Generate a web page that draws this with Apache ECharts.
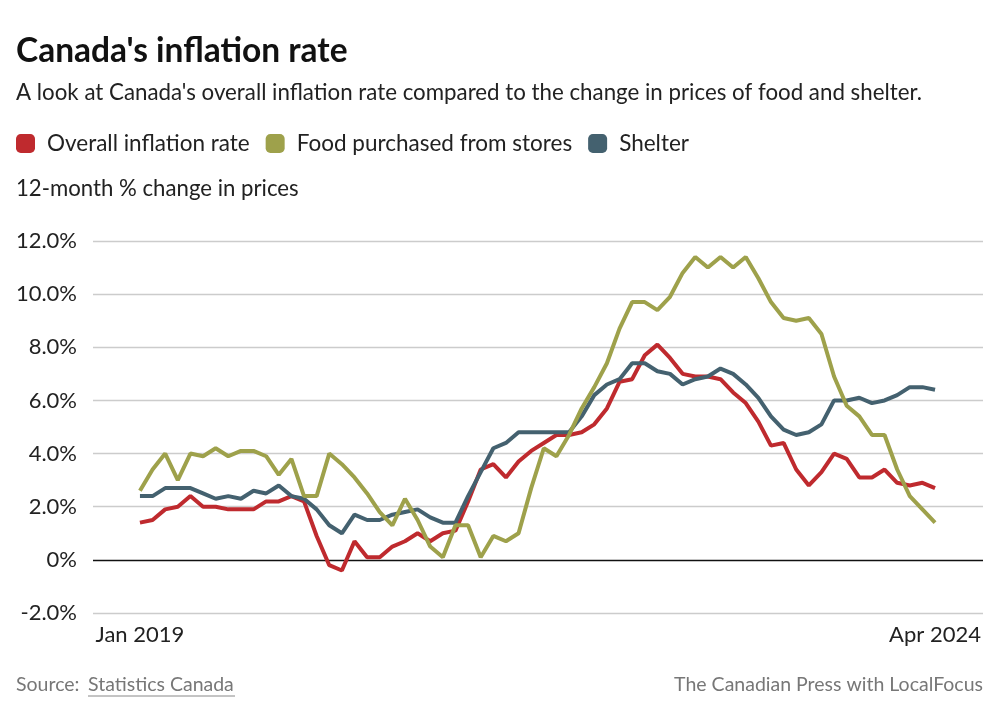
<!DOCTYPE html>
<html>
<head>
<meta charset="utf-8">
<script src="https://cdn.jsdelivr.net/npm/echarts@6/dist/echarts.min.js"></script>
<style>
html,body{margin:0;padding:0;background:#fff;}
#chart{width:1000px;height:725px;}
</style>
</head>
<body>
<div id="chart"></div>
<script>
// Months Jan 2019 .. Apr 2024
const monthNames = ['Jan','Feb','Mar','Apr','May','Jun','Jul','Aug','Sep','Oct','Nov','Dec'];
const months = [];
for (let y = 2019; y <= 2024; y++) {
  for (let m = 0; m < 12; m++) {
    if (y === 2024 && m > 3) break;
    months.push(monthNames[m] + ' ' + y);
  }
}
const xTickLabels = ['Jan 2019', 'Apr 2024'];
const yTicks = [-2, 0, 2, 4, 6, 8, 10, 12];

const overall = [1.4,1.5,1.9,2.0,2.4,2.0,2.0,1.9,1.9,1.9,2.2,2.2,
  2.4,2.2,0.9,-0.2,-0.4,0.7,0.1,0.1,0.5,0.7,1.0,0.7,
  1.0,1.1,2.2,3.4,3.6,3.1,3.7,4.1,4.4,4.7,4.7,4.8,
  5.1,5.7,6.7,6.8,7.7,8.1,7.6,7.0,6.9,6.9,6.8,6.3,
  5.9,5.2,4.3,4.4,3.4,2.8,3.3,4.0,3.8,3.1,3.1,3.4,
  2.9,2.8,2.9,2.7];

const food = [2.6,3.4,4.0,3.0,4.0,3.9,4.2,3.9,4.1,4.1,3.9,3.2,
  3.8,2.4,2.4,4.0,3.6,3.1,2.5,1.8,1.3,2.3,1.5,0.5,
  0.1,1.3,1.3,0.1,0.9,0.7,1.0,2.7,4.2,3.9,4.7,5.7,
  6.5,7.4,8.7,9.7,9.7,9.4,9.9,10.8,11.4,11.0,11.4,11.0,
  11.4,10.6,9.7,9.1,9.0,9.1,8.5,6.9,5.8,5.4,4.7,4.7,
  3.4,2.4,1.9,1.4];

const shelter = [2.4,2.4,2.7,2.7,2.7,2.5,2.3,2.4,2.3,2.6,2.5,2.8,
  2.4,2.3,1.9,1.3,1.0,1.7,1.5,1.5,1.7,1.8,1.9,1.6,
  1.4,1.4,2.4,3.3,4.2,4.4,4.8,4.8,4.8,4.8,4.8,5.4,
  6.2,6.6,6.8,7.4,7.4,7.1,7.0,6.6,6.8,6.9,7.2,7.0,
  6.6,6.1,5.4,4.9,4.7,4.8,5.1,6.0,6.0,6.1,5.9,6.0,
  6.2,6.5,6.5,6.4];

const seriesNames = ['Overall inflation rate', 'Food purchased from stores', 'Shelter'];
const colors = ['#bf2a2e', '#9ea14b', '#44616f'];

function pairs(arr) { return arr.map((v, i) => [i, v]); }
const lastIdx = months.length - 1;

const chart = echarts.init(document.getElementById('chart'), null, {renderer: 'canvas'});
const FONT = 'Lato, "Noto Sans", sans-serif';

// split line colours: the zero line is dark, the rest light grey
const splitColors = yTicks.map(v => v === 0 ? '#111111' : '#cccccc');

const option = {
  backgroundColor: '#fff',
  animation: false,
  textStyle: { fontFamily: FONT },
  legend: {
    data: seriesNames,
    left: 16,
    top: 132,
    padding: 0,
    itemWidth: 19,
    itemHeight: 19,
    itemGap: 16,
    icon: 'roundRect',
    textStyle: { fontSize: 22.5, color: '#222', fontFamily: FONT, padding: [0, 0, 0, 7] }
  },
  grid: { left: 93, right: 17, top: 241, bottom: 112, containLabel: false },
  xAxis: {
    type: 'value',
    min: -3.72,
    max: lastIdx + 3.8,
    axisLine: { show: false },
    axisTick: { show: false },
    splitLine: { show: false },
    axisLabel: {
      customValues: [0, lastIdx],
      formatter: function (v) { return v === 0 ? xTickLabels[0] : xTickLabels[1]; },
      fontSize: 22,
      color: '#222',
      margin: 11,
      fontFamily: FONT
    }
  },
  yAxis: {
    type: 'value',
    min: yTicks[0],
    max: yTicks[yTicks.length - 1],
    interval: 2,
    axisLine: { show: false },
    axisTick: { show: false },
    splitLine: { show: true, lineStyle: { color: splitColors, width: 1.4 } },
    axisLabel: {
      margin: 16,
      fontSize: 22,
      color: '#222',
      fontFamily: FONT,
      formatter: function (v) { return v === 0 ? '0%' : v.toFixed(1) + '%'; }
    }
  },
  series: [
    { name: seriesNames[0], type: 'line', data: pairs(overall), showSymbol: false, symbol: 'none',
      lineStyle: { color: colors[0], width: 4 }, itemStyle: { color: colors[0] }, z: 3 },
    { name: seriesNames[2], type: 'line', data: pairs(shelter), showSymbol: false, symbol: 'none',
      lineStyle: { color: colors[2], width: 4 }, itemStyle: { color: colors[2] }, z: 4 },
    { name: seriesNames[1], type: 'line', data: pairs(food), showSymbol: false, symbol: 'none',
      lineStyle: { color: colors[1], width: 4 }, itemStyle: { color: colors[1] }, z: 5 }
  ],
  graphic: [
    { type: 'text', x: 16, y: 51, style: { text: "Canada's inflation rate", font: 'bold 33.5px ' + FONT, fill: '#111', textAlign: 'left', textVerticalAlign: 'middle' } },
    { type: 'text', x: 16, y: 93, style: { text: "A look at Canada's overall inflation rate compared to the change in prices of food and shelter.", font: '22.3px ' + FONT, fill: '#222', textAlign: 'left', textVerticalAlign: 'middle' } },
    { type: 'text', x: 16, y: 189, style: { text: '12-month % change in prices', font: '22.2px ' + FONT, fill: '#222', textAlign: 'left', textVerticalAlign: 'middle' } },
    { type: 'text', x: 16, y: 685, style: { text: 'Source:', font: '19.5px ' + FONT, fill: '#777', textAlign: 'left', textVerticalAlign: 'middle' } },
    { type: 'text', x: 88, y: 685, style: { text: 'Statistics Canada', font: '19.5px ' + FONT, fill: '#777', textAlign: 'left', textVerticalAlign: 'middle' } },
    { type: 'line', shape: { x1: 88, y1: 696, x2: 235, y2: 696 }, style: { stroke: '#888', lineWidth: 1 } },
    { type: 'text', x: 983, y: 685, style: { text: 'The Canadian Press with LocalFocus', font: '19.5px ' + FONT, fill: '#777', textAlign: 'right', textVerticalAlign: 'middle' } }
  ]
};
chart.setOption(option);
</script>
</body>
</html>
